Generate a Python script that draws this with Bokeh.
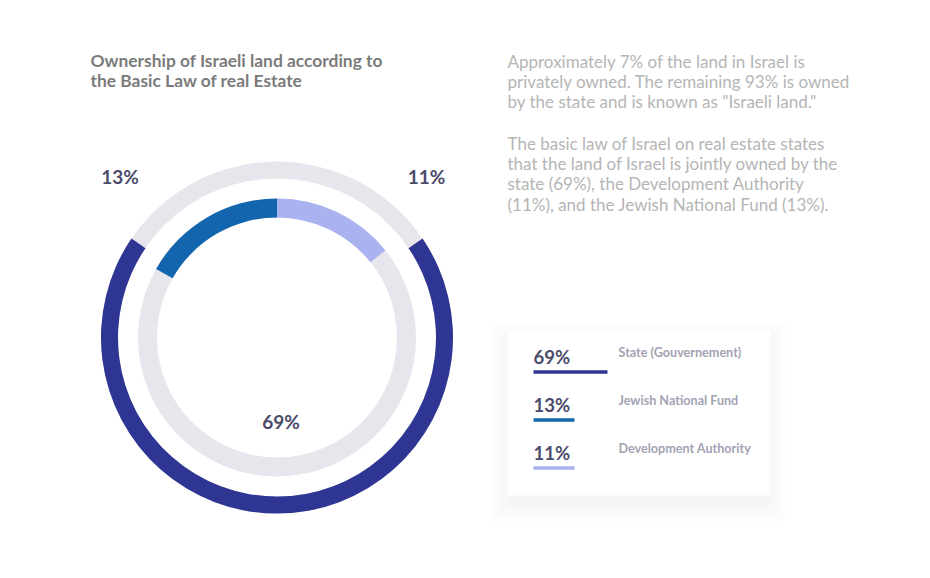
from bokeh.plotting import figure
from bokeh.models import Range1d
from bokeh.embed import file_html
from bokeh.resources import INLINE
from bokeh.core.properties import value
import math

# ---- data ----
categories = ["State (Gouvernement)", "Jewish National Fund", "Development Authority"]
shares = [69, 13, 11]
pct_labels = ["69%", "13%", "11%"]
colors = ["#2E3592", "#1366AD", "#AAB2EF"]

title_lines = ["Ownership of Israeli land according to", "the Basic Law of real Estate"]
para_lines = [
    "Approximately 7% of the land in Israel is",
    "privately owned. The remaining 93% is owned",
    "by the state and is known as \"Israeli land.\"",
    "",
    "The basic law of Israel on real estate states",
    "that the land of Israel is jointly owned by the",
    "state (69%), the Development Authority",
    "(11%), and the Jewish National Fund (13%).",
]

W, H = 914, 562
p = figure(width=W, height=H, output_backend="svg", toolbar_location=None,
           x_range=Range1d(0, W), y_range=Range1d(0, H),
           min_border=0, outline_line_color=None)
p.axis.visible = False
p.grid.visible = False
p.background_fill_color = "white"
p.border_fill_color = "white"

def iy(py):
    return H - py

FONT = value("Lato")
TRACK = "#E6E6EC"
DARK_TXT = "#4B4B6A"

# ---- donut ----
cx, cy = 276.5, iy(337)
# outer ring: state share, centred on the bottom
p.annulus(x=[cx], y=[cy], inner_radius=159, outer_radius=176,
          fill_color=TRACK, line_color=None)
state_span = shares[0] / 100 * 360
p.annular_wedge(x=[cx], y=[cy], inner_radius=159, outer_radius=176,
                start_angle=[math.radians(270 - state_span / 2)],
                end_angle=[math.radians(270 + state_span / 2)],
                fill_color=colors[0], line_color=None)
# inner ring: other two shares fill the remaining gap at the top
p.annulus(x=[cx], y=[cy], inner_radius=120, outer_radius=139,
          fill_color=TRACK, line_color=None)
gap = 360 - state_span
jnf_span = gap * shares[1] / (shares[1] + shares[2])
dev_span = gap * shares[2] / (shares[1] + shares[2])
p.annular_wedge(x=[cx, cx], y=[cy, cy], inner_radius=120, outer_radius=139,
                start_angle=[math.radians(90), math.radians(90 - dev_span)],
                end_angle=[math.radians(90 + jnf_span), math.radians(90)],
                fill_color=[colors[1], colors[2]], line_color=None)

# donut labels
p.text(x=[280.5, 119.5, 426], y=[iy(421), iy(176), iy(176)], text=pct_labels,
       text_font=FONT, text_font_style="bold", text_font_size="19px",
       text_color=DARK_TXT, text_align="center", text_baseline="middle")

# ---- title ----
p.text(x=[90, 90], y=[iy(60), iy(80)], text=title_lines,
       text_font=FONT, text_font_style="bold", text_font_size="17.4px",
       text_color="#7B7B7B", text_align="left", text_baseline="middle")

# ---- paragraph ----
para_y = [61, 81, 101, 122, 143, 163, 183, 204]
p.text(x=[507] * len(para_lines), y=[iy(v) for v in para_y], text=para_lines,
       text_font=FONT, text_font_size="17px",
       text_color="#B5B5B5", text_align="left", text_baseline="middle")

# ---- legend card with soft shadow ----
L, R, T, B = 507, 770, 330, 495
for i in range(10):
    e = 1 + i * 2.2
    p.quad(left=[L - e + 4], right=[R + e - 4], top=[iy(T - e + 12)], bottom=[iy(B + e + 6)],
           fill_color="#8890A8", fill_alpha=0.006, line_color=None)
p.quad(left=[L], right=[R], top=[iy(T)], bottom=[iy(B)],
       fill_color="white", line_color=None)

row_y = [356, 404, 452]
bar_w = [74, 41, 41]
p.text(x=[533] * 3, y=[iy(v) for v in row_y], text=pct_labels,
       text_font=FONT, text_font_style="bold", text_font_size="18.5px",
       text_color=DARK_TXT, text_align="left", text_baseline="middle")
p.quad(left=[533] * 3, right=[533 + w for w in bar_w],
       top=[iy(v + 13.7) for v in row_y], bottom=[iy(v + 17.3) for v in row_y],
       fill_color=colors, line_color=None)
p.text(x=[618] * 3, y=[iy(v - 4.5) for v in row_y], text=categories,
       text_font=FONT, text_font_style="bold", text_font_size="12.6px",
       text_color="#A3A3B3", text_align="left", text_baseline="middle")

open("out.html", "w").write(file_html(p, INLINE))
